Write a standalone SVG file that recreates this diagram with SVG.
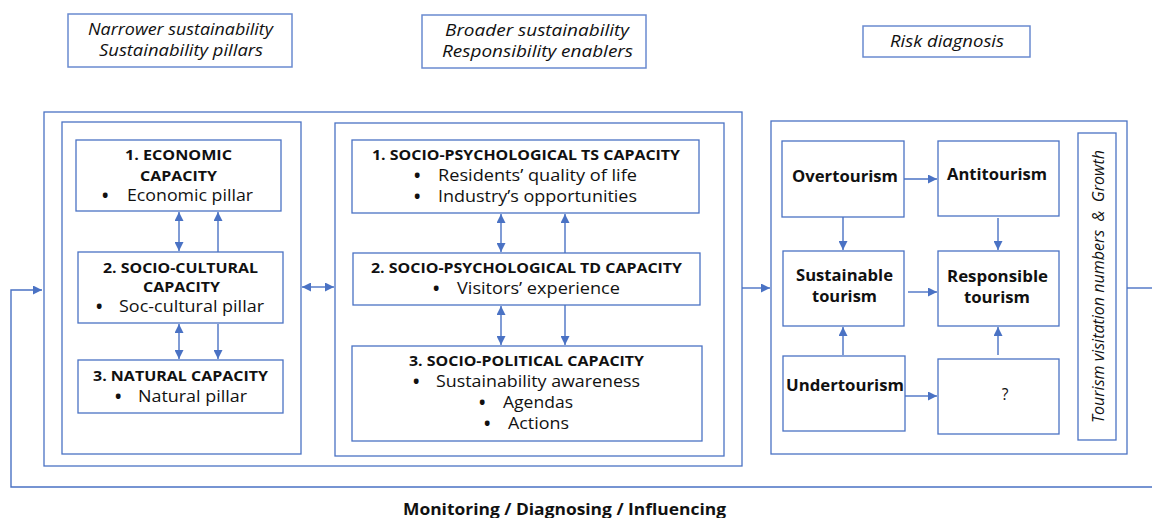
<svg xmlns="http://www.w3.org/2000/svg" width="1152" height="518" viewBox="0 0 1152 518">
<defs>
<marker id="ah" viewBox="0 0 10 10" refX="10" refY="5" markerWidth="9" markerHeight="9" markerUnits="userSpaceOnUse" orient="auto-start-reverse">
<path d="M0,0 L10,5 L0,10 z" fill="#4a72c4"/>
</marker>
<style>
.box{fill:#fff;stroke:#4a72c4;stroke-width:1.3}
.frame{fill:none;stroke:#4a72c4;stroke-width:1.3}
.hdr{fill:#fff;stroke:#6a8ad0;stroke-width:1.5}
.ln{fill:none;stroke:#4a72c4;stroke-width:1.4}
.a{marker-end:url(#ah)}
.d{marker-start:url(#ah);marker-end:url(#ah)}
text{font-family:"Open Sans","Liberation Sans",sans-serif;fill:#111}
.t{font-weight:bold;font-size:14.5px}
.b{font-size:15.5px}
.bu{font-size:17px;font-weight:bold}
.c{text-anchor:middle}
.i{font-style:italic;font-size:15.5px}
.rb{font-weight:bold;font-size:15.5px}
</style>
</defs>
<rect width="1152" height="518" fill="#fff"/>

<g id="hdr-narrower">
<rect class="hdr" x="68" y="14" width="224" height="53"/>
<text class="i" x="88" y="35" textLength="185" lengthAdjust="spacingAndGlyphs">Narrower sustainability</text>
<text class="i" x="99" y="56" textLength="164" lengthAdjust="spacingAndGlyphs">Sustainability pillars</text>
</g>
<g id="hdr-broader">
<rect class="hdr" x="422" y="15" width="224" height="53"/>
<text class="i" x="445" y="36" textLength="184" lengthAdjust="spacingAndGlyphs">Broader sustainability</text>
<text class="i" x="442" y="57" textLength="191" lengthAdjust="spacingAndGlyphs">Responsibility enablers</text>
</g>
<g id="hdr-risk">
<rect class="hdr" x="863" y="26" width="167" height="31"/>
<text class="i" x="890" y="47" textLength="114" lengthAdjust="spacingAndGlyphs">Risk diagnosis</text>
</g>

<g id="frames">
<rect class="frame" x="44" y="112" width="698" height="354"/>
<rect class="frame" x="62" y="122" width="239" height="332"/>
<rect class="frame" x="335" y="123" width="389" height="333"/>
<rect class="frame" x="771" y="121" width="356" height="333"/>
</g>

<g id="economic">
<rect class="box" x="76" y="140" width="205" height="71"/>
<text class="t" x="125" y="160" textLength="107" lengthAdjust="spacingAndGlyphs">1. ECONOMIC</text>
<text class="t" x="140" y="181" textLength="77" lengthAdjust="spacingAndGlyphs">CAPACITY</text>
<text class="bu" x="102" y="202">•</text>
<text class="b" x="127" y="201" textLength="126" lengthAdjust="spacingAndGlyphs">Economic pillar</text>
</g>
<g id="sociocultural">
<rect class="box" x="78" y="252" width="205" height="71"/>
<text class="t" x="103" y="273" textLength="155" lengthAdjust="spacingAndGlyphs">2. SOCIO-CULTURAL</text>
<text class="t" x="143" y="292" textLength="77" lengthAdjust="spacingAndGlyphs">CAPACITY</text>
<text class="bu" x="96" y="313">•</text>
<text class="b" x="119" y="312" textLength="145" lengthAdjust="spacingAndGlyphs">Soc-cultural pillar</text>
</g>
<g id="natural">
<rect class="box" x="78" y="360" width="205" height="53"/>
<text class="t" x="93" y="381" textLength="175" lengthAdjust="spacingAndGlyphs">3. NATURAL CAPACITY</text>
<text class="bu" x="115" y="403">•</text>
<text class="b" x="138" y="402" textLength="109" lengthAdjust="spacingAndGlyphs">Natural pillar</text>
</g>

<g id="ts">
<rect class="box" x="352" y="140" width="347" height="73"/>
<text class="t" x="372" y="160" textLength="308" lengthAdjust="spacingAndGlyphs">1. SOCIO-PSYCHOLOGICAL TS CAPACITY</text>
<text class="bu" x="414" y="182">•</text>
<text class="b" x="438" y="181" textLength="199" lengthAdjust="spacingAndGlyphs">Residents’ quality of life</text>
<text class="bu" x="414" y="203">•</text>
<text class="b" x="438" y="202" textLength="199" lengthAdjust="spacingAndGlyphs">Industry’s opportunities</text>
</g>
<g id="td">
<rect class="box" x="353" y="253" width="347" height="52"/>
<text class="t" x="371" y="273" textLength="311" lengthAdjust="spacingAndGlyphs">2. SOCIO-PSYCHOLOGICAL TD CAPACITY</text>
<text class="bu" x="433" y="295">•</text>
<text class="b" x="457" y="294" textLength="163" lengthAdjust="spacingAndGlyphs">Visitors’ experience</text>
</g>
<g id="political">
<rect class="box" x="352" y="346" width="350" height="95"/>
<text class="t" x="409" y="366" textLength="235" lengthAdjust="spacingAndGlyphs">3. SOCIO-POLITICAL CAPACITY</text>
<text class="bu" x="413" y="388">•</text>
<text class="b" x="436" y="387" textLength="204" lengthAdjust="spacingAndGlyphs">Sustainability awareness</text>
<text class="bu" x="479" y="409">•</text>
<text class="b" x="503" y="408" textLength="70" lengthAdjust="spacingAndGlyphs">Agendas</text>
<text class="bu" x="484" y="430">•</text>
<text class="b" x="508" y="429" textLength="61" lengthAdjust="spacingAndGlyphs">Actions</text>
</g>

<g id="overtourism">
<rect class="box" x="782" y="141" width="122" height="76"/>
<text class="rb" x="792" y="182" textLength="106" lengthAdjust="spacingAndGlyphs">Overtourism</text>
</g>
<g id="antitourism">
<rect class="box" x="938" y="141" width="121" height="75"/>
<text class="rb" x="947" y="180" textLength="100" lengthAdjust="spacingAndGlyphs">Antitourism</text>
</g>
<g id="sustainable">
<rect class="box" x="783" y="251" width="121" height="75"/>
<text class="rb" x="796" y="281" textLength="97" lengthAdjust="spacingAndGlyphs">Sustainable</text>
<text class="rb" x="812" y="302" textLength="65" lengthAdjust="spacingAndGlyphs">tourism</text>
</g>
<g id="responsible">
<rect class="box" x="938" y="251" width="121" height="75"/>
<text class="rb" x="947" y="282" textLength="101" lengthAdjust="spacingAndGlyphs">Responsible</text>
<text class="rb" x="964" y="303" textLength="66" lengthAdjust="spacingAndGlyphs">tourism</text>
</g>
<g id="undertourism">
<rect class="box" x="783" y="356" width="122" height="75"/>
<text class="rb" x="786" y="391" textLength="118" lengthAdjust="spacingAndGlyphs">Undertourism</text>
</g>
<g id="unknown">
<rect class="box" x="938" y="359" width="121" height="75"/>
<text class="b c" x="1005" y="400">?</text>
</g>
<g id="growth">
<rect class="box" x="1078" y="133" width="38" height="307"/>
<text class="i" xml:space="preserve" style="white-space:pre" transform="translate(1104,423) rotate(-90)" x="0" y="0" textLength="273" lengthAdjust="spacingAndGlyphs">Tourism visitation numbers  &amp;  Growth</text>
</g>

<g id="connectors">
<line class="ln d" x1="179" y1="212" x2="179" y2="251"/>
<line class="ln a" x1="218" y1="252" x2="218" y2="212"/>
<line class="ln d" x1="179" y1="324" x2="179" y2="359"/>
<line class="ln a" x1="218" y1="324" x2="218" y2="359"/>
<line class="ln d" x1="302" y1="287" x2="334" y2="287"/>
<line class="ln d" x1="501" y1="214" x2="501" y2="252"/>
<line class="ln a" x1="565" y1="253" x2="565" y2="214"/>
<line class="ln d" x1="501" y1="306" x2="501" y2="345"/>
<line class="ln a" x1="565" y1="305" x2="565" y2="345"/>
<line class="ln a" x1="742" y1="288" x2="770" y2="288"/>
<line class="ln a" x1="904" y1="179" x2="937" y2="179"/>
<line class="ln a" x1="843" y1="217" x2="843" y2="250"/>
<line class="ln a" x1="998" y1="218" x2="998" y2="250"/>
<line class="ln a" x1="908" y1="292" x2="937" y2="292"/>
<line class="ln a" x1="843" y1="355" x2="843" y2="327"/>
<line class="ln a" x1="998" y1="355" x2="998" y2="327"/>
<line class="ln a" x1="905" y1="396" x2="937" y2="396"/>
<line class="ln" x1="1127" y1="288" x2="1152" y2="288"/>
<polyline class="ln a" points="1152,487 11,487 11,290 42,290"/>
</g>

<g id="footer">
<text class="rb" x="403" y="515" textLength="323" lengthAdjust="spacingAndGlyphs">Monitoring / Diagnosing / Influencing</text>
</g>
</svg>
